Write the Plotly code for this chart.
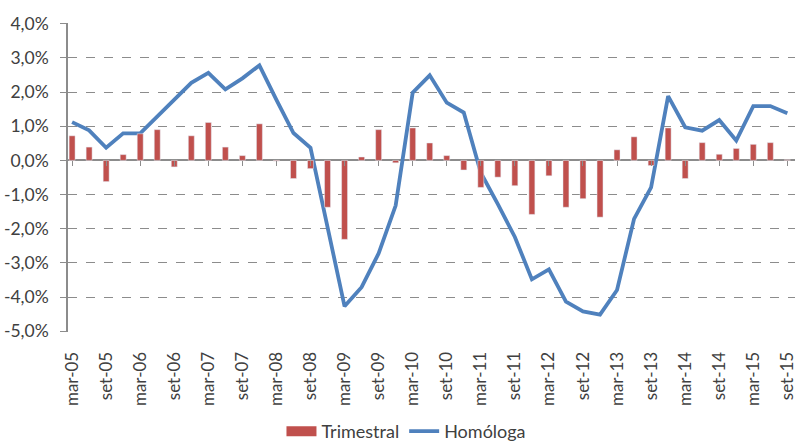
import plotly.graph_objects as go

months = ["mar", "jun", "set", "dez"]
quarters = [f"{m}-{y:02d}" for y in range(5, 16) for m in months][:43]

trimestral = [0.72, 0.39, -0.62, 0.17, 0.78, 0.90, -0.19, 0.72, 1.11, 0.39, 0.14, 1.07,
              -0.02, -0.53, -0.24, -1.37, -2.31, 0.10, 0.90, -0.07, 0.95, 0.51, 0.14, -0.28,
              -0.79, -0.49, -0.74, -1.58, -0.45, -1.37, -1.12, -1.66, 0.31, 0.69, -0.15, 0.95,
              -0.53, 0.52, 0.18, 0.35, 0.47, 0.52, 0.02]

homologa = [1.12, 0.88, 0.37, 0.79, 0.79, 1.29, 1.77, 2.27, 2.56, 2.08, 2.40, 2.78,
            1.77, 0.80, 0.37, -1.90, -4.27, -3.71, -2.72, -1.32, 1.98, 2.49, 1.69, 1.40,
            -0.36, -1.28, -2.24, -3.48, -3.19, -4.13, -4.42, -4.51, -3.79, -1.71, -0.79, 1.88,
            0.97, 0.87, 1.18, 0.58, 1.59, 1.59, 1.38]

tick_labels = quarters[::2]
y_ticks = [4, 3, 2, 1, 0, -1, -2, -3, -4, -5]
y_ticktext = [f"{v:.1f}%".replace(".", ",") for v in y_ticks]

RED = "#C0504D"
BLUE = "#4F81BD"
GRID = "#8C8C8C"
TXT = "#404040"
FONT = "Lato"

yr = [-5.02, 4.02]
xr = [-0.24, 42.45]

fig = go.Figure()
fig.add_trace(go.Bar(x=quarters, y=trimestral, name="Trimestral", marker_color=RED,
                     width=0.35, xaxis="x2", showlegend=False))
# legend swatch for the bars (wide rectangle like the original)
fig.add_trace(go.Scatter(x=[None], y=[None], name="Trimestral", mode="lines",
                         line=dict(color=RED, width=10), hoverinfo="skip"))
fig.add_trace(go.Scatter(x=quarters, y=homologa, name="Homóloga", mode="lines",
                         line=dict(color=BLUE, width=3.8)))

fig.update_layout(
    width=797, height=442,
    margin=dict(l=68, r=2, t=23, b=110, autoexpand=False),
    paper_bgcolor="white", plot_bgcolor="white",
    font=dict(family=FONT, color=TXT, size=17),
    showlegend=True,
    legend=dict(orientation="h", xref="container", x=0.51, xanchor="center",
                y=-0.322, yanchor="middle",
                font=dict(size=18, color=TXT), traceorder="normal"),
    xaxis=dict(type="category", categoryorder="array", categoryarray=quarters,
               range=xr, tickvals=tick_labels, ticktext=tick_labels, tickangle=-90,
               ticks="outside", ticklen=12, tickcolor="rgba(0,0,0,0)",
               showgrid=False, showline=False, zeroline=False, automargin=False,
               tickfont=dict(size=17, color=TXT)),
    xaxis2=dict(type="category", categoryorder="array", categoryarray=quarters,
                overlaying="x", anchor="free",
                position=(0 - yr[0]) / (yr[1] - yr[0]),
                range=xr, tickvals=tick_labels, showticklabels=False,
                ticks="outside", ticklen=5, tickcolor=GRID, tickwidth=1.2,
                showgrid=False, showline=False, zeroline=False),
    yaxis=dict(range=yr, tickvals=y_ticks, ticktext=y_ticktext,
               showgrid=True, gridcolor=GRID, griddash="dash", gridwidth=1,
               zeroline=True, zerolinecolor=GRID, zerolinewidth=1.6,
               showline=True, linecolor=GRID, linewidth=1.6,
               ticks="outside", ticklen=6, tickcolor=GRID,
               ticklabelstandoff=8, automargin=False,
               tickfont=dict(size=17.5, color=TXT)),
)

fig.write_html("out.html", config={"displayModeBar": False},
               post_script="document.body.style.margin='0';")
